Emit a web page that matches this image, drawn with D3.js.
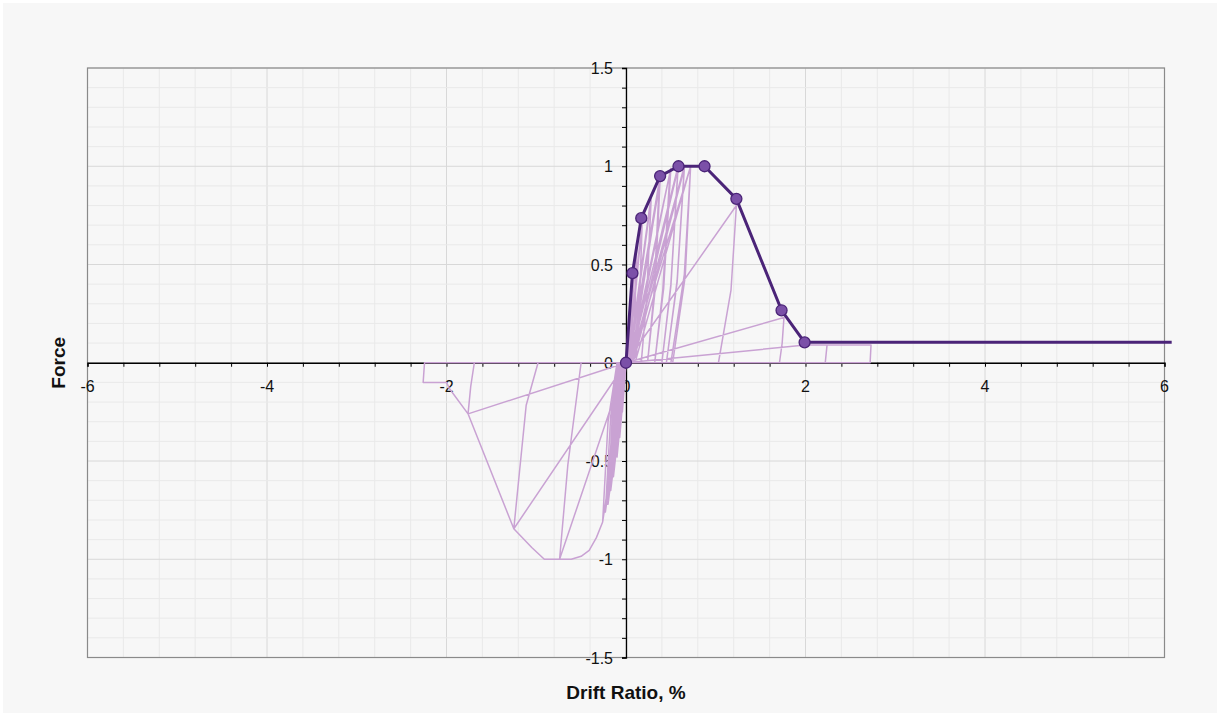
<!DOCTYPE html>
<html>
<head>
<meta charset="utf-8">
<script src="https://cdn.jsdelivr.net/npm/d3@7"></script>
<style>
  body { margin: 0; background: #fff; }
  svg { display: block; font-family: "Liberation Sans", Arial, sans-serif; }
  .tick-label { font-size: 16px; fill: #111; }
  .axis-title { font-size: 19px; font-weight: bold; fill: #111; }
</style>
</head>
<body>
<div id="chart"></div>
<script>
// Cyclic drift test: light hysteresis trace plus the dark backbone (envelope) curve.
const xTickLabels = [-6, -4, -2, 0, 2, 4, 6];
const yTickLabels = [-1.5, -1, -0.5, 0, 0.5, 1, 1.5];

// backbone points with markers, then the flat tail that runs past the plot edge
const backboneDrift = [0, 0.072, 0.17, 0.38, 0.585, 0.875, 1.23, 1.733, 1.99];
const backboneForce = [0, 0.456, 0.736, 0.95, 1.0, 1.0, 0.834, 0.267, 0.104];
const backboneTail = [6.08, 0.104];

const hysteresisPath = [
  // 0.07 %
  [0, 0], [0.07, 0.45], [0.055, 0.2], [0.04, 0], [0, 0], [-0.04, -0.25], [-0.035, -0.1], [-0.02, 0],
  [0.01, 0], [0.07, 0.44], [0.055, 0.19], [0.04, 0], [0, 0], [-0.04, -0.24], [-0.02, 0],
  // 0.12 %
  [0.01, 0], [0.12, 0.62], [0.1, 0.26], [0.07, 0], [0, 0], [-0.07, -0.38], [-0.06, -0.14], [-0.03, 0],
  [0.02, 0], [0.12, 0.6], [0.1, 0.25], [0.07, 0], [0, 0], [-0.07, -0.37], [-0.03, 0],
  // 0.18 %
  [0.02, 0], [0.18, 0.73], [0.15, 0.3], [0.11, 0], [0, 0], [-0.1, -0.48], [-0.08, -0.17], [-0.04, 0],
  [0.03, 0], [0.18, 0.71], [0.15, 0.29], [0.11, 0], [0, 0], [-0.1, -0.47], [-0.04, 0],
  // 0.28 %
  [0.03, 0], [0.28, 0.85], [0.23, 0.33], [0.17, 0], [0, 0], [-0.14, -0.58], [-0.11, -0.2], [-0.05, 0],
  [0.04, 0], [0.28, 0.83], [0.23, 0.32], [0.17, 0], [0, 0], [-0.14, -0.57], [-0.05, 0],
  // 0.38 %
  [0.03, 0], [0.38, 0.95], [0.32, 0.36], [0.24, 0], [0, 0], [-0.17, -0.65], [-0.13, -0.22], [-0.06, 0],
  [0.05, 0], [0.38, 0.93], [0.32, 0.35], [0.24, 0], [0, 0], [-0.17, -0.64], [-0.06, 0],
  [0.06, 0], [0.37, 0.91], [0.31, 0.34], [0.24, 0], [0, 0], [-0.17, -0.63], [-0.06, 0],
  // 0.5 %
  [0.04, 0], [0.5, 0.99], [0.42, 0.38], [0.32, 0], [0, 0], [-0.2, -0.71], [-0.15, -0.24], [-0.07, 0],
  [0.06, 0], [0.49, 0.97], [0.41, 0.37], [0.32, 0], [0, 0], [-0.2, -0.7], [-0.07, 0],
  // 0.58 %
  [0.04, 0], [0.58, 1.0], [0.5, 0.4], [0.4, 0], [0, 0], [-0.2, -0.72], [-0.15, -0.25], [-0.08, 0],
  [0.07, 0], [0.58, 0.99], [0.5, 0.39], [0.4, 0], [0, 0], [-0.21, -0.72], [-0.08, 0],
  // 0.65 %
  [0.05, 0], [0.65, 1.0], [0.57, 0.42], [0.45, 0], [0, 0], [-0.23, -0.76], [-0.17, -0.27], [-0.09, 0],
  [0.08, 0], [0.65, 0.99], [0.57, 0.41], [0.45, 0], [0, 0], [-0.23, -0.75], [-0.09, 0],
  // 0.72 %
  [0.05, 0], [0.72, 1.0], [0.65, 0.45], [0.5, 0], [0, 0], [-0.26, -0.81], [-0.2, -0.3], [-0.1, 0],
  [0.1, 0], [0.72, 1.0], [0.66, 0.44], [0.52, 0], [0, 0], [-0.26, -0.81], [-0.33, -0.89],
  [-0.41, -0.955], [-0.5, -0.985], [-0.61, -1.0], [-0.74, -1.0], [-0.648, -0.52], [-0.5, 0],
  // large cycles
  [0, 0], [1.23, 0.8], [1.17, 0.37], [1.03, 0],
  [0, 0], [-0.74, -1.0], [-0.91, -1.0], [-1.05, -0.94], [-1.25, -0.845], [-1.187, -0.556], [-1.112, -0.216], [-0.98, 0],
  [0, 0], [1.76, 0.23], [1.74, 0.1], [1.71, 0],
  [0, 0], [-1.25, -0.845], [-1.76, -0.26], [-1.73, -0.12], [-1.69, 0],
  [0, 0], [2.0, 0.09], [2.24, 0.09], [2.22, 0],
  [0, 0], [-1.76, -0.26], [-1.97, -0.13], [-2.0, -0.1], [-2.26, -0.1], [-2.245, 0],
  [0, 0], [2.0, 0.09], [2.73, 0.09], [2.72, 0], [0, 0]
];

const W = 1220, H = 716;
const plot = { left: 87.5, right: 1164.5, top: 68, bottom: 657.5 };

const svg = d3.select("#chart").append("svg").attr("width", W).attr("height", H);
svg.append("rect").attr("x", 3).attr("y", 3).attr("width", W - 6).attr("height", H - 6).attr("fill", "#f7f7f7");

const x = d3.scaleLinear([-6, 6], [plot.left, plot.right]);
const y = d3.scaleLinear([-1.5, 1.5], [plot.bottom, plot.top]);

const xMinor = d3.range(-6, 6.001, 0.4).map((d) => +d.toFixed(2));
const yMinor = d3.range(-1.5, 1.5001, 0.1).map((d) => +d.toFixed(2));
const isMajorX = (d) => Math.abs(d / 2 - Math.round(d / 2)) < 1e-6;
const isMajorY = (d) => Math.abs(d / 0.5 - Math.round(d / 0.5)) < 1e-6;

// gridlines
const grid = svg.append("g");
grid.selectAll("line.gx").data(xMinor).join("line")
  .attr("x1", (d) => x(d)).attr("x2", (d) => x(d)).attr("y1", plot.top).attr("y2", plot.bottom)
  .attr("stroke", (d) => isMajorX(d) ? "#d8d8d8" : "#e9e9e9").attr("stroke-width", 1);
grid.selectAll("line.gy").data(yMinor).join("line")
  .attr("y1", (d) => y(d)).attr("y2", (d) => y(d)).attr("x1", plot.left).attr("x2", plot.right)
  .attr("stroke", (d) => isMajorY(d) ? "#d8d8d8" : "#e9e9e9").attr("stroke-width", 1);

// plot frame
svg.append("rect").attr("x", plot.left).attr("y", plot.top)
  .attr("width", plot.right - plot.left).attr("height", plot.bottom - plot.top)
  .attr("fill", "none").attr("stroke", "#8a8a8a").attr("stroke-width", 1.2);

// axes crossing at the origin
const xAxis = svg.append("g").attr("transform", `translate(0,${y(0)})`)
  .call(d3.axisBottom(x).tickValues(xMinor).tickSize(4).tickFormat(""));
xAxis.select(".domain").attr("stroke", "#000").attr("stroke-width", 1.3);
xAxis.selectAll(".tick line").attr("stroke", "#000");
const yAxis = svg.append("g").attr("transform", `translate(${x(0)},0)`)
  .call(d3.axisLeft(y).tickValues(yMinor).tickSize(4).tickFormat(""));
yAxis.select(".domain").attr("stroke", "#000").attr("stroke-width", 1.3);
yAxis.selectAll(".tick line").attr("stroke", "#000");

svg.append("g").selectAll("text").data(xTickLabels).join("text")
  .attr("class", "tick-label").attr("text-anchor", "middle")
  .attr("x", (d) => x(d)).attr("y", y(0) + 29).text((d) => d);
svg.append("g").selectAll("text").data(yTickLabels).join("text")
  .attr("class", "tick-label").attr("text-anchor", "end")
  .attr("x", x(0) - 13).attr("y", (d) => y(d) + 6).text((d) => d);

svg.append("text").attr("class", "axis-title").attr("text-anchor", "middle")
  .attr("x", (plot.left + plot.right) / 2).attr("y", 699).text("Drift Ratio, %");
svg.append("text").attr("class", "axis-title").attr("text-anchor", "middle")
  .attr("transform", `translate(65,${y(0)}) rotate(-90)`).text("Force");

// hysteresis trace
const line = d3.line().x((d) => x(d[0])).y((d) => y(d[1]));
svg.append("path").datum(hysteresisPath).attr("d", line)
  .attr("fill", "none").attr("stroke", "#c9a2d3").attr("stroke-width", 1.5)
  .attr("stroke-linejoin", "round");

// backbone
const backbone = backboneDrift.map((d, i) => [d, backboneForce[i]]);
svg.append("path").datum([...backbone, backboneTail]).attr("d", line)
  .attr("fill", "none").attr("stroke", "#4b2478").attr("stroke-width", 3)
  .attr("stroke-linejoin", "round");
svg.append("g").selectAll("circle").data(backbone).join("circle")
  .attr("cx", (d) => x(d[0])).attr("cy", (d) => y(d[1])).attr("r", 5.5)
  .attr("fill", "#7b50a8").attr("stroke", "#4b2478").attr("stroke-width", 1.3);
</script>
</body>
</html>
